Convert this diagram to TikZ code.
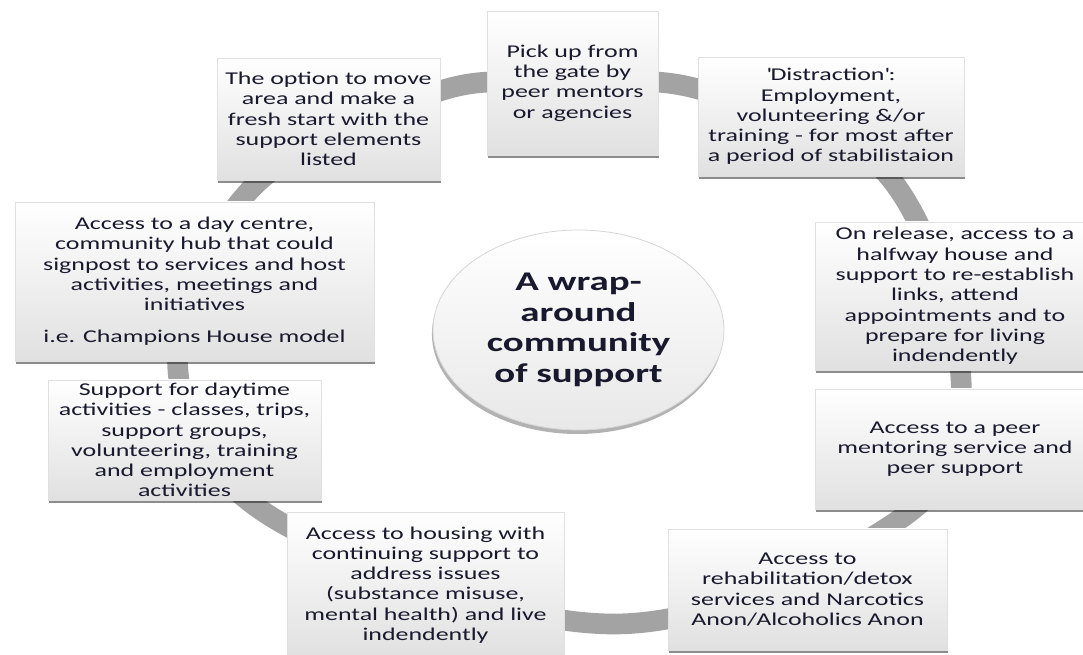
\documentclass[tikz,border=0pt]{standalone}
\usepackage{fontspec}
\setmainfont{Carlito}[FakeStretch=1.44]
\usetikzlibrary{shadows,shapes.geometric}
\definecolor{ringgray}{RGB}{163,163,163}
\definecolor{txt}{RGB}{25,25,45}
\tikzset{
  card/.style={draw=black!12, line width=0.5pt, top color=white, bottom color=black!12,
    drop shadow={shadow xshift=0.8pt, shadow yshift=-2.4pt, fill=black, opacity=0.45},
    align=center, font=\fontsize{13.5pt}{15.2pt}\selectfont, text=txt, inner sep=2pt},
  cardsize/.style 2 args={minimum width=#1*0.75pt, minimum height=#2*0.75pt},
  ringline/.style={line width=15.5pt, draw=ringgray},
  hub/.style={ellipse, draw=black!16, line width=0.6pt, top color=white, bottom color=black!9,
    drop shadow={shadow xshift=-0.8pt, shadow yshift=-3pt, fill=black, opacity=0.3},
    align=center, font=\bfseries\fontsize{20.25pt}{22.9pt}\selectfont, text=txt, inner sep=0pt},
}
\begin{document}
\begin{tikzpicture}[x=0.75pt,y=-0.75pt]
\useasboundingbox (0,0) rectangle (1083,655);
\clip (0,0) rectangle (1083,655);
\fill[white] (0,0) rectangle (1083,655);
% ring waypoints
\coordinate (r1) at (250,190);
\coordinate (r2) at (440,91);
\coordinate (r3) at (570,86);
\coordinate (r4) at (698,89);
\coordinate (r5) at (885,172);
\coordinate (r6) at (961,379);
\coordinate (r7) at (903,517);
\coordinate (r8) at (616,624);
\coordinate (r10) at (280,522);
\coordinate (r11) at (178,371);
\draw[ringline] plot[smooth cycle, tension=0.6] coordinates {(r1) (r2) (r3) (r4) (r5) (r6) (r7) (r8) (r10) (r11)};
% hub
\node[hub, minimum width=291*0.75pt, minimum height=200*0.75pt] (hub) at (578.5,330)
  {A wrap-\\around\\community\\of support};
% cards
\node[card, cardsize={223}{122}] (opt) at (328.5,119)
  {The option to move\\area and make a\\fresh start with the\\support elements\\listed};
\node[card, cardsize={171}{144}] (pick) at (572.5,83)
  {Pick up from\\the gate by\\peer mentors\\or agencies};
\node[card, cardsize={266}{119}] (dist) at (831,116.5)
  {\textquotesingle Distraction\textquotesingle:\\Employment,\\volunteering \&/or\\training - for most after\\a period of stabilistaion};
\node[card, cardsize={280}{148}] (half) at (955,296)
  {On release, access to a\\halfway house and\\support to re-establish\\links, attend\\appointments and to\\prepare for living\\indendently};
\node[card, cardsize={280}{120}] (peer) at (955,449)
  {Access to a peer\\mentoring service and\\peer support};
\node[card, cardsize={279}{121}] (rehab) at (807.5,589.5)
  {Access to\\rehabilitation/detox\\services and Narcotics\\Anon/Alcoholics Anon};
\node[card, cardsize={277}{146}] (house) at (425.5,585)
  {Access to housing with\\continuing support to\\address issues\\(substance misuse,\\mental health) and live\\indendently};
\node[card, cardsize={273}{120}] (daytime) at (184.5,440)
  {Support for daytime\\activities - classes, trips,\\support groups,\\volunteering, training\\and employment\\activities};
\node[card, cardsize={359}{159}] (day) at (194.5,281.5)
  {Access to a day centre,\\community hub that could\\signpost to services and host\\activities, meetings and\\initiatives\\[9pt]i.e. Champions House model};
\end{tikzpicture}
\end{document}
